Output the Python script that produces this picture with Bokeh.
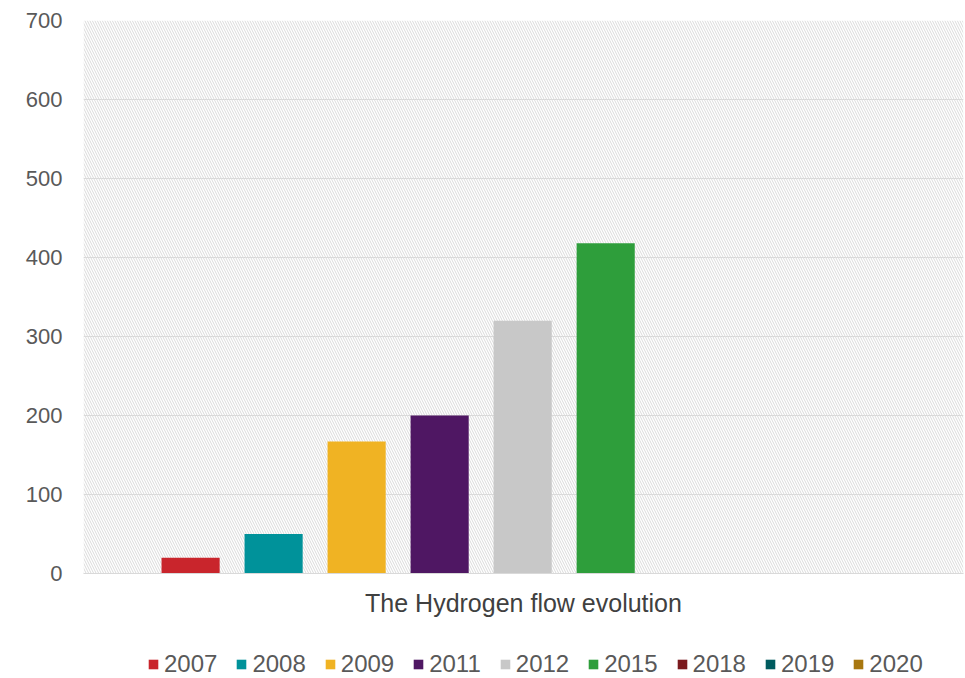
from bokeh.plotting import figure
from bokeh.layouts import column
from bokeh.models import (ColumnDataSource, Legend, LegendItem, BoxAnnotation,
                          FixedTicker, Range1d)
from bokeh.embed import file_html
from bokeh.resources import INLINE

# Hydrogen flow per year
years = ["2007", "2008", "2009", "2011", "2012", "2015", "2018", "2019", "2020"]
flow = [20, 50, 167, 200, 320, 418, 0, 0, 0]
colors = ["#C9252C", "#00929A", "#F0B323", "#4F1763", "#C8C8C8",
          "#2E9E3B", "#7B1A1E", "#005B5F", "#A8770F"]
y_ticks = [0, 100, 200, 300, 400, 500, 600, 700]
x_title = "The Hydrogen flow evolution"

FONT = "Liberation Sans"

source = ColumnDataSource(dict(
    x=list(range(len(years))),
    top=flow,
    color=colors,
    year=years,
))

x_range = Range1d(-1.29, len(years) - 1 + 1.31)

p = figure(frame_width=880, frame_height=553, output_backend="svg",
           toolbar_location=None, x_range=x_range, y_range=Range1d(0, 700),
           min_border_left=83, min_border_right=2, min_border_top=20,
           min_border_bottom=62)
p.outline_line_color = None
p.background_fill_color = "white"
p.border_fill_color = "white"

# diagonal hatch filling the plotting area
p.add_layout(BoxAnnotation(fill_alpha=0, line_color=None,
                           hatch_pattern="\\", hatch_color="#dadada",
                           hatch_scale=5, hatch_weight=1, level="underlay"))

r = p.vbar(x="x", top="top", bottom=0, width=0.7, color="color",
           line_color=None, source=source)

# axes
p.yaxis.ticker = FixedTicker(ticks=y_ticks)
p.yaxis.axis_line_color = None
p.yaxis.major_tick_line_color = None
p.yaxis.minor_tick_line_color = None
p.yaxis.major_label_text_font = FONT
p.yaxis.major_label_text_font_size = "22px"
p.yaxis.major_label_text_color = "#595959"
p.yaxis.major_label_standoff = 15

p.xaxis.ticker = FixedTicker(ticks=[])
p.xaxis.axis_line_color = "#d9d9d9"
p.xaxis.major_tick_line_color = None
p.xaxis.minor_tick_line_color = None
p.xaxis.axis_label = x_title
p.xaxis.axis_label_text_font = FONT
p.xaxis.axis_label_text_font_style = "normal"
p.xaxis.axis_label_text_font_size = "25px"
p.xaxis.axis_label_text_color = "#404040"
p.xaxis.axis_label_standoff = 15

p.xgrid.grid_line_color = None
p.ygrid.ticker = FixedTicker(ticks=y_ticks)
p.ygrid.grid_line_color = "#d9d9d9"
p.ygrid.grid_line_width = 1

# legend strip: same bars, drawn out of view, so only the legend shows
lg = figure(width=965, height=56, output_backend="svg", toolbar_location=None,
            x_axis_type=None, y_axis_type=None, x_range=x_range,
            y_range=Range1d(5000, 5001), min_border=0)
lg.outline_line_color = None
lg.grid.grid_line_color = None
lr = lg.vbar(x="x", top="top", bottom=0, width=0.7, color="color",
             line_color=None, source=source)

items = [LegendItem(label=y, renderers=[lr], index=i) for i, y in enumerate(years)]
legend = Legend(items=items, orientation="horizontal", location=(64, 13),
                label_text_font=FONT, label_text_font_size="24px",
                label_text_color="#595959", glyph_width=12, glyph_height=12,
                label_standoff=5, spacing=18, border_line_color=None,
                background_fill_alpha=0, padding=0, margin=0)
lg.add_layout(legend, "center")

layout = column(p, lg, spacing=0)
open("out.html", "w").write(file_html(layout, INLINE))
